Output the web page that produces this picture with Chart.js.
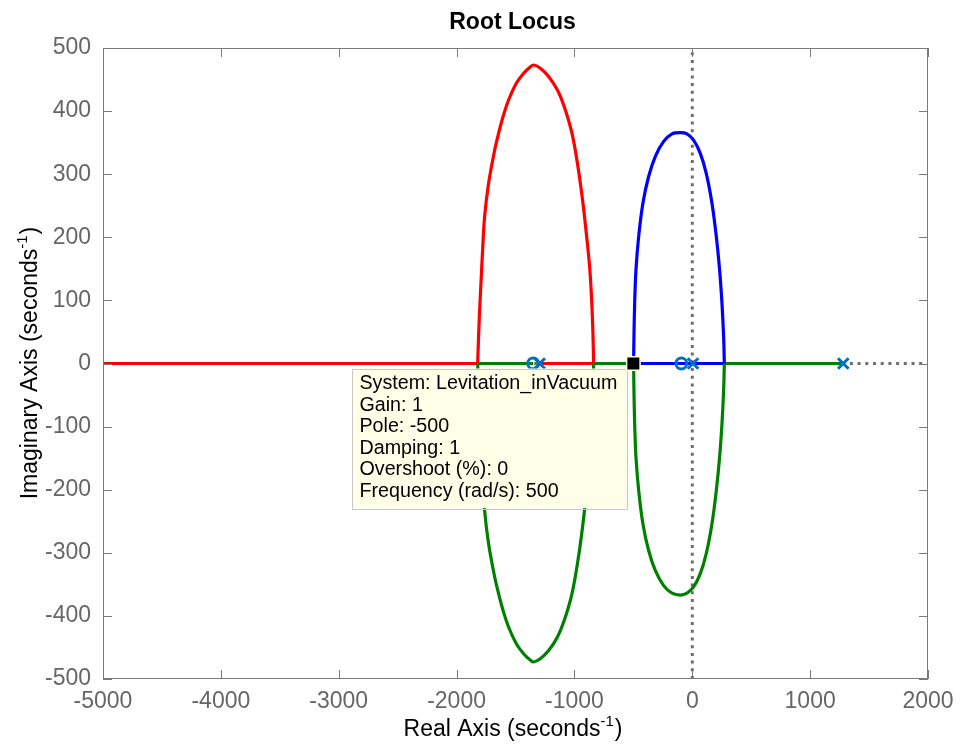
<!DOCTYPE html>
<html>
<head>
<meta charset="utf-8">
<title>Root Locus</title>
<script src="https://cdn.jsdelivr.net/npm/chart.js@4.4.0/dist/chart.umd.min.js"></script>
<style>
  html, body { margin: 0; padding: 0; background: #fff; }
  #wrap { width: 960px; height: 744px; }
</style>
</head>
<body>
<div id="wrap"><canvas id="rlocus" width="960" height="744"></canvas></div>
<script>
// ---------------- data ----------------
const xTickValues = [-5000, -4000, -3000, -2000, -1000, 0, 1000, 2000];
const yTickValues = [-500, -400, -300, -200, -100, 0, 100, 200, 300, 400, 500];

// open-loop poles and zeros
const poleRe = [-1295, 6, 1281];
const poleIm = [0, 0, 0];
const zeroRe = [-1350, -93];
const zeroIm = [0, 0];

// complex branches (upper / lower halves)
const redArcRe = [-1821, -1807, -1793, -1779, -1762, -1728, -1677, -1643, -1606, -1558, -1493, -1431, -1375, -1346,
    -1290, -1219, -1143, -1086, -1021, -970, -931, -899, -871, -854, -843, -837];
const redArcIm = [0, 74, 127, 180, 233, 286, 338, 365, 391, 418, 444, 460, 470, 473,
    468, 455, 433, 407, 365, 312, 259, 206, 153, 101, 48, 0];
const greenArcRe = [-1821, -1807, -1793, -1779, -1762, -1728, -1677, -1643, -1606, -1558, -1493, -1431, -1375, -1346,
    -1290, -1219, -1143, -1086, -1021, -970, -931, -899, -871, -854, -843, -837];
const greenArcIm = [0, -74, -127, -180, -233, -286, -338, -365, -391, -418, -444, -460, -470, -473,
    -468, -455, -433, -407, -365, -312, -259, -206, -153, -101, -48, 0];

const blueArcRe = [-498, -495, -489, -478, -455, -419, -371, -314, -243, -172, -102, -45, 11, 68, 119, 167, 204, 232, 252, 266, 272];
const blueArcIm = [0, 42, 95, 148, 201, 254, 296, 328, 352, 364, 366, 364, 354, 333, 301, 254, 201, 148, 95, 42, 0];
const greenArc2Re = [-498, -495, -489, -478, -455, -419, -371, -314, -243, -172, -100, -45, 11, 68, 119, 167, 204, 232, 252, 266, 272];
const greenArc2Im = [0, -42, -95, -148, -201, -254, -296, -328, -352, -364, -367, -364, -354, -333, -301, -254, -201, -148, -95, -42, 0];

// real-axis segments [from, to]
const redAxisSegs = [[-5000, -1821], [-1295, -837]];
const greenAxisSegs = [[-1821, -1350], [-837, -500], [272, 1281]];
const blueAxisSegs = [[-500, 272]];

// selected point (data tip)
const tipRe = [-500];
const tipIm = [0];
const tipLines = [
    'System: Levitation_inVacuum',
    'Gain: 1',
    'Pole: -500',
    'Damping: 1',
    'Overshoot (%): 0',
    'Frequency (rad/s): 500'
];

// ---------------- helpers ----------------
const FONT = "'Liberation Sans', Arial, Helvetica, sans-serif";
const RED = '#ff0000', GREEN = '#008000', BLUE = '#0000ff', MARK = '#0072bd';

function pts(re, im) {
    return re.map((r, i) => ({x: r, y: im[i]}));
}

function curve(points, color, order) {
    return {
        data: points,
        showLine: true,
        borderColor: color,
        borderWidth: 3.2,
        pointRadius: 0,
        tension: 0.35,
        fill: false,
        order: order
    };
}

const datasets = [];

// data tip square (drawn last)
datasets.push({
    data: pts(tipRe, tipIm),
    pointStyle: 'rect',
    pointRadius: 9.5,
    backgroundColor: '#000',
    borderColor: '#ffffdc',
    borderWidth: 1.5,
    clip: false,
    order: 0
});

// poles and zeros
datasets.push({
    data: pts(poleRe, poleIm),
    pointStyle: 'crossRot',
    pointRadius: 7.5,
    borderColor: MARK,
    borderWidth: 3,
    clip: false,
    order: 1
});
datasets.push({
    data: pts(zeroRe, zeroIm),
    pointStyle: 'circle',
    pointRadius: 5.4,
    backgroundColor: 'rgba(0,0,0,0)',
    borderColor: MARK,
    borderWidth: 3,
    clip: false,
    order: 1
});

// branches
datasets.push(curve(pts(redArcRe, redArcIm), RED, 2));
datasets.push(curve(pts(greenArcRe, greenArcIm), GREEN, 2));
datasets.push(curve(pts(blueArcRe, blueArcIm), BLUE, 2));
datasets.push(curve(pts(greenArc2Re, greenArc2Im), GREEN, 2));
redAxisSegs.forEach(s => datasets.push(curve(pts(s, [0, 0]), RED, 3)));
greenAxisSegs.forEach(s => datasets.push(curve(pts(s, [0, 0]), GREEN, 3)));
blueAxisSegs.forEach(s => datasets.push(curve(pts(s, [0, 0]), BLUE, 3)));

// dotted real / imaginary axes
const dotted = {
    showLine: true,
    borderColor: '#6e6e6e',
    borderWidth: 3,
    borderDash: [3, 4.7],
    borderCapStyle: 'butt',
    pointRadius: 0,
    tension: 0,
    order: 5
};
datasets.push(Object.assign({data: pts([xTickValues[0], xTickValues[xTickValues.length - 1]], [0, 0])}, dotted));
datasets.push(Object.assign({data: pts([0, 0], [yTickValues[0], yTickValues[yTickValues.length - 1]])}, dotted));

const tipIndex = 0;

// ---------------- plugins ----------------
// axes box with inward ticks, title and axis labels
const frame = {
    id: 'frame',
    afterDatasetsDraw(chart) {
        const {ctx, chartArea: a, scales} = chart;
        ctx.save();
        ctx.strokeStyle = '#7a7a7a';
        ctx.lineWidth = 1;
        ctx.strokeRect(a.left + 0.5, a.top + 0.5, a.right - a.left - 1, a.bottom - a.top - 1);
        ctx.beginPath();
        const tl = 9;
        scales.x.ticks.forEach(t => {
            const px = Math.round(scales.x.getPixelForValue(t.value)) + 0.5;
            ctx.moveTo(px, a.bottom); ctx.lineTo(px, a.bottom - tl);
            ctx.moveTo(px, a.top); ctx.lineTo(px, a.top + tl);
        });
        scales.y.ticks.forEach(t => {
            const py = Math.round(scales.y.getPixelForValue(t.value)) + 0.5;
            ctx.moveTo(a.left, py); ctx.lineTo(a.left + tl, py);
            ctx.moveTo(a.right, py); ctx.lineTo(a.right - tl, py);
        });
        ctx.stroke();
        ctx.restore();
    },
    afterDraw(chart) {
        const {ctx, chartArea: a} = chart;
        const cx = (a.left + a.right) / 2;
        ctx.save();
        ctx.fillStyle = '#000';
        ctx.textBaseline = 'alphabetic';
        ctx.textAlign = 'center';
        ctx.font = 'bold 23px ' + FONT;
        ctx.fillText('Root Locus', cx - 3, 29);
        drawSupLabel(ctx, 'Real Axis (seconds', '-1', ')', cx - 3, 736);
        ctx.translate(37, (a.top + a.bottom) / 2);
        ctx.rotate(-Math.PI / 2);
        drawSupLabel(ctx, 'Imaginary Axis (seconds', '-1', ')', 0, 0);
        ctx.restore();
    }
};

function drawSupLabel(ctx, main, sup, tail, cx, y) {
    ctx.save();
    ctx.textAlign = 'left';
    ctx.font = '23px ' + FONT;
    const w1 = ctx.measureText(main).width;
    const w3 = ctx.measureText(tail).width;
    ctx.font = '15px ' + FONT;
    const w2 = ctx.measureText(sup).width;
    let x = cx - (w1 + w2 + w3) / 2;
    ctx.font = '23px ' + FONT;
    ctx.fillText(main, x, y);
    ctx.font = '15px ' + FONT;
    ctx.fillText(sup, x + w1, y - 10);
    ctx.font = '23px ' + FONT;
    ctx.fillText(tail, x + w1 + w2 + 1, y);
    ctx.restore();
}

// data tip box, placed just before the tip marker is drawn
const dataTip = {
    id: 'dataTip',
    beforeDatasetDraw(chart, args) {
        if (args.index !== tipIndex) return;
        const {ctx, scales} = chart;
        const px = scales.x.getPixelForValue(tipRe[0]);
        const py = scales.y.getPixelForValue(tipIm[0]);
        ctx.save();
        ctx.font = '19.7px ' + FONT;
        const maxW = Math.max(...tipLines.map(s => ctx.measureText(s).width));
        const lh = 21.6;
        const w = maxW + 17;
        const h = tipLines.length * lh + 10;
        const right = px - 6;
        const left = right - w;
        const top = py + 5;
        ctx.fillStyle = '#ffffe8';
        ctx.fillRect(left, top, w, h);
        ctx.strokeStyle = '#c8c8c8';
        ctx.lineWidth = 1;
        ctx.strokeRect(Math.round(left) + 0.5, Math.round(top) + 0.5, Math.round(w), Math.round(h));
        ctx.fillStyle = '#000';
        ctx.textBaseline = 'middle';
        ctx.textAlign = 'left';
        tipLines.forEach((s, i) => ctx.fillText(s, left + 7, top + 15 + i * lh));
        ctx.restore();
    }
};

// ---------------- chart ----------------
new Chart(document.getElementById('rlocus').getContext('2d'), {
    type: 'scatter',
    data: {datasets: datasets},
    options: {
        responsive: false,
        animation: false,
        layout: {padding: {left: 0, right: 32, top: 48, bottom: 0}},
        plugins: {
            legend: {display: false},
            tooltip: {enabled: false},
            title: {display: false}
        },
        scales: {
            x: {
                type: 'linear',
                min: xTickValues[0],
                max: xTickValues[xTickValues.length - 1],
                afterBuildTicks: s => { s.ticks = xTickValues.map(v => ({value: v})); },
                afterFit: s => { s.height = 65; s.paddingLeft = 0; s.paddingRight = 0; },
                grid: {display: false, drawTicks: false},
                border: {display: false},
                ticks: {
                    color: '#666',
                    padding: 9,
                    font: {size: 23, family: FONT},
                    callback: v => String(v)
                }
            },
            y: {
                type: 'linear',
                min: yTickValues[0],
                max: yTickValues[yTickValues.length - 1],
                afterBuildTicks: s => { s.ticks = yTickValues.map(v => ({value: v})); },
                afterFit: s => { s.width = 103; s.paddingTop = 0; s.paddingBottom = 0; },
                grid: {display: false, drawTicks: false},
                border: {display: false},
                ticks: {
                    color: '#666',
                    padding: 12,
                    font: {size: 23, family: FONT},
                    callback: v => String(v)
                }
            }
        }
    },
    plugins: [frame, dataTip]
});
</script>
</body>
</html>
